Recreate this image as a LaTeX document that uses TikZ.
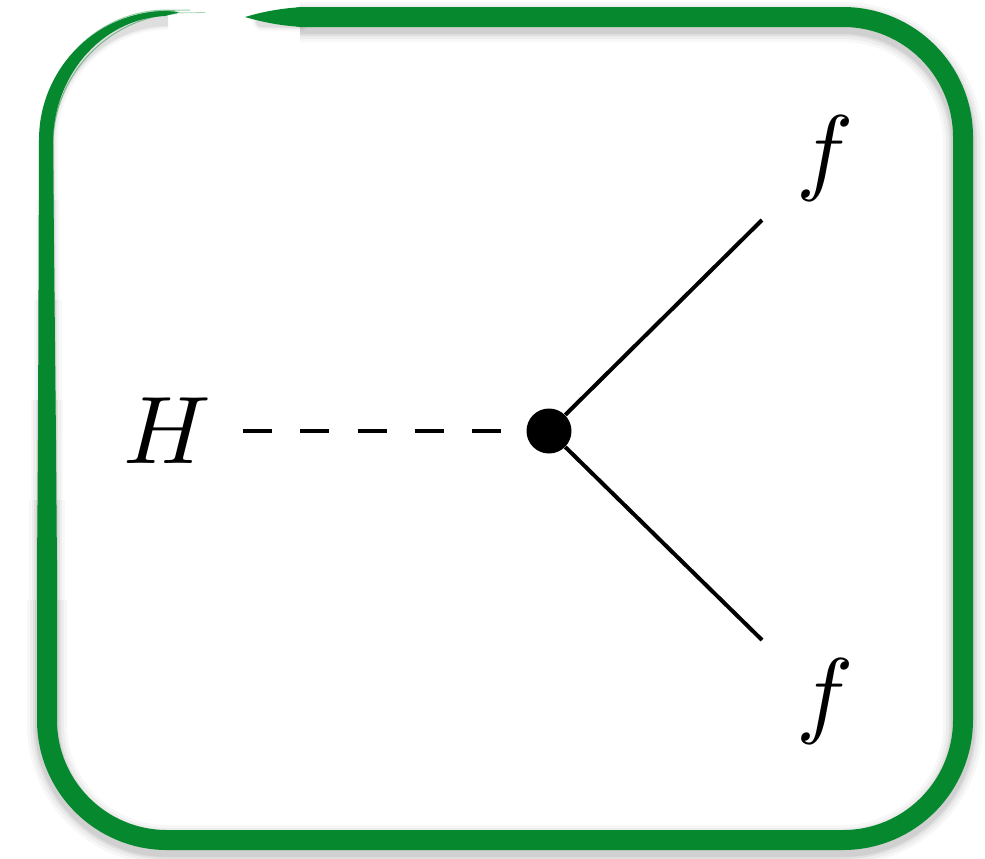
\documentclass[tikz,border=0pt]{standalone}
\definecolor{brush}{RGB}{6,136,46}
\tikzset{
  frameline/.style={draw=brush, line width=10pt, rounded corners=60pt, line cap=round},
  shadowline/.style={draw=black, rounded corners=60pt},
  lbl/.style={inner sep=0pt, scale=4.8},
  vertexdot/.style={circle, fill=black, minimum size=22.5pt, inner sep=0pt},
  fermion/.style={draw=black, line width=2pt},
  scalar/.style={draw=black, line width=2.3pt, dash pattern=on 14.5pt off 14.2pt},
}
\begin{document}
\begin{tikzpicture}[x=0.5pt, y=-0.5pt]
\useasboundingbox (0,0) rectangle (985,858);
\fill[white] (0,0) rectangle (985,858);
% soft shadow of the frame
\foreach \w/\o in {20/0.03, 17/0.04, 14/0.055, 12/0.065} {
  \draw[shadowline, line width=0.5*\w pt, opacity=0.7*\o, line cap=round]
    (262,21) -- (300,22);
  \draw[shadowline, line width=\w pt, opacity=\o]
    (300,22) -- (963,22) -- (963,845) -- (47,845) -- (47,600);
  \draw[shadowline, line width=0.9*\w pt, opacity=0.95*\o] (47,600) -- (47,500);
  \draw[shadowline, line width=0.8*\w pt, opacity=0.9*\o] (47,500) -- (47,400);
  \draw[shadowline, line width=0.7*\w pt, opacity=0.85*\o] (47.5,400) -- (47.5,300);
  \draw[shadowline, line width=0.6*\w pt, opacity=0.8*\o] (48,300) -- (48,200);
  \draw[shadowline, line width=0.5*\w pt, opacity=0.7*\o]
    (48,200) -- (48,21) -- (165,20);
}
% main brush stroke
\draw[frameline] (300,17) -- (963,17) -- (963,840) -- (47,840) -- (47,560);
% tapered start of the stroke
\fill[brush] (245,17) .. controls (262,12) and (285,7) .. (310,7)
  -- (310,27) .. controls (285,27) and (262,22) .. (245,17) -- cycle;
% tapered dry end of the stroke round the top-left corner
\fill[brush] (37,570) -- (38,440) -- (39,140) .. controls (39,69) and (96,11) .. (167,11)
  -- (180,12) -- (165,16) .. controls (100,19) and (52,78) .. (53,145)
  -- (56,440) -- (57,570) -- cycle;
\foreach \dx/\ex/\w/\o in {-2/175/0.7/0.55, 3/160/0.6/0.5, 6/150/0.5/0.45, -4/190/0.5/0.4, 1/205/0.4/0.35} {
  \draw[brush, line width=\w pt, opacity=\o, rounded corners=62pt]
    (47+\dx,420) -- (47+\dx,14+\dx) -- (\ex,12+0.5*\dx);
}
% diagram
\node[lbl] (H) at (167,431) {$H$};
\node[vertexdot] (v) at (549,431) {};
\node[lbl] (f1) at (825,158) {$f$};
\node[lbl] (f2) at (825,701) {$f$};
\coordinate (e1) at (762,220);
\coordinate (e2) at (762,640);
\draw[scalar, shorten <=15pt, shorten >=12.5pt] (H.east) -- (v.west);
\draw[fermion] (v) -- (e1);
\draw[fermion] (v) -- (e2);
\end{tikzpicture}
\end{document}
